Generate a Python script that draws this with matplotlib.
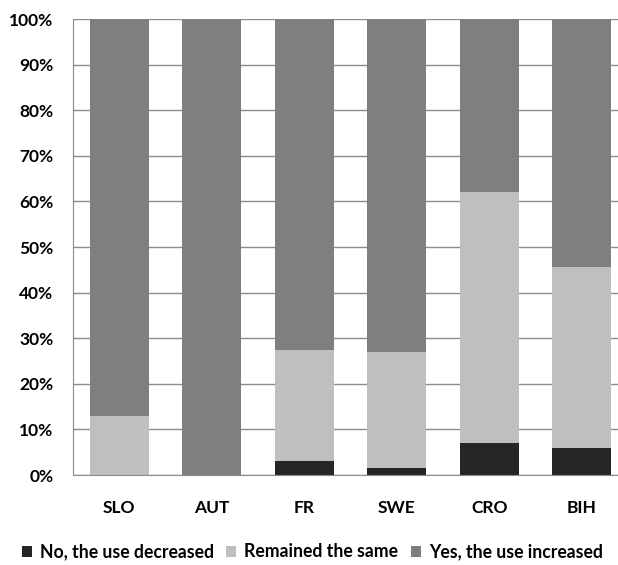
import numpy as np
import matplotlib.pyplot as plt

plt.rcParams['font.family'] = ['Lato', 'DejaVu Sans']

countries = ['SLO', 'AUT', 'FR', 'SWE', 'CRO', 'BIH']
decreased = [0.0, 0.0, 3.0, 1.5, 7.0, 5.9]
same = [12.9, 0.0, 24.4, 25.5, 55.0, 39.7]
increased = [87.1, 100.0, 72.6, 73.0, 38.0, 54.4]

labels = ['No, the use decreased', 'Remained the same', 'Yes, the use increased']
colors = ['#262626', '#bfbfbf', '#7f7f7f']

fig = plt.figure(figsize=(6.18, 5.65), dpi=100)
ax = fig.add_axes([73 / 618, 90 / 565, 555 / 618, 456 / 565])

x = np.arange(len(countries))
bottom = np.zeros(len(countries))
for vals, lab, col in zip([decreased, same, increased], labels, colors):
    ax.bar(x, vals, width=0.64, bottom=bottom, color=col, label=lab, zorder=2)
    bottom += np.array(vals)

ax.set_xlim(-0.5, 5.5)
ax.set_ylim(0, 100)
ax.set_yticks(np.arange(0, 101, 10))
ax.set_yticklabels([f'{v}%' for v in range(0, 101, 10)], fontsize=12.5, fontweight='bold')
ax.set_xticks(x)
ax.set_xticklabels(countries, fontsize=12.5, fontweight='bold')
ax.tick_params(axis='y', length=0, pad=14)
ax.tick_params(axis='x', length=0, pad=18)
ax.grid(axis='y', color='#8c8c8c', linewidth=1, zorder=0)
for s in ['top', 'right']:
    ax.spines[s].set_visible(False)
ax.spines['left'].set_color('#8c8c8c')
ax.spines['bottom'].set_color('#8c8c8c')

fig.legend(loc='lower left', bbox_to_anchor=(6 / 618, -0.02), ncol=3, frameon=False,
           handlelength=0.57, handleheight=0.57, handletextpad=0.45,
           columnspacing=0.7, prop={'weight': 'bold', 'size': 12.7})

fig.savefig('out.png', dpi=100)
